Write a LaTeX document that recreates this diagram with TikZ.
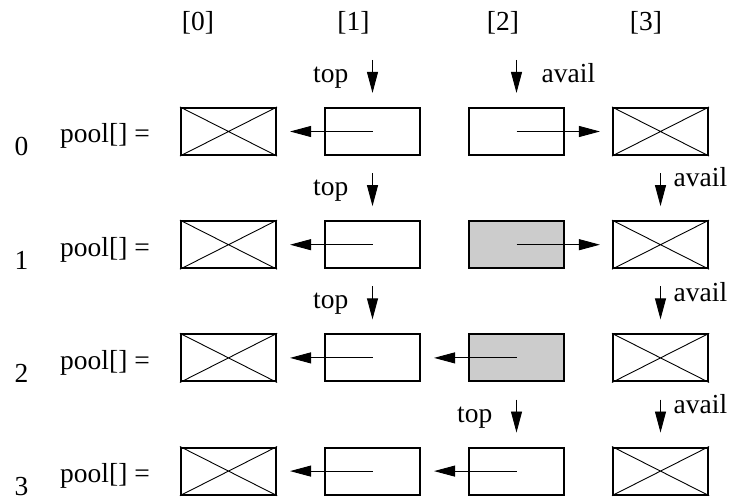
\documentclass[tikz,border=0pt]{standalone}
\usepackage{fontspec}
\setmainfont{Liberation Serif}
\usetikzlibrary{arrows.meta}
\begin{document}
\begin{tikzpicture}[x=1pt,y=-1pt,
  cell/.style={draw,line width=2.1pt,minimum width=95pt,minimum height=47pt,inner sep=0pt},
  grey/.style={fill=black!20},
  crossln/.style={line width=0.9pt},
  arr/.style={line width=0.9pt,-{Triangle[length=21pt,width=11pt]}},
  lbl/.style={inner sep=0pt,font=\fontsize{27.5}{30}\selectfont},
]
\useasboundingbox (0,0) rectangle (731,502);
% headers
\node[lbl,anchor=base] (h0) at (198,31) {[0]};
\node[lbl,anchor=base] (h1) at (353.5,31) {[1]};
\node[lbl,anchor=base] (h2) at (503,31) {[2]};
\node[lbl,anchor=base] (h3) at (646,31) {[3]};
% boxes
\foreach \r/\y in {0/131.5,1/244.7,2/357.9,3/471.1}{
  \node[cell] (b\r0) at (228.5,\y) {};
  \node[cell] (b\r1) at (372.5,\y) {};
  \node[cell] (b\r3) at (660.5,\y) {};
  \node[lbl,anchor=base west] (p\r) at (60,\y+11.5) {pool[] =};
  \node[lbl,anchor=base] (n\r) at (21.5,\y+24.5) {\r};
  \draw[crossln] (b\r0.north west) -- (b\r0.south east) (b\r0.south west) -- (b\r0.north east);
  \draw[crossln] (b\r3.north west) -- (b\r3.south east) (b\r3.south west) -- (b\r3.north east);
  \draw[arr] (b\r1.center) -- ([xshift=13pt]b\r0.east);
}
\node[cell] (b02) at (516.5,131.5) {};
\node[cell,grey] (b12) at (516.5,244.7) {};
\node[cell,grey] (b22) at (516.5,357.9) {};
\node[cell] (b32) at (516.5,471.1) {};
% horizontal links from column 2
\draw[arr] (b02.center) -- ([xshift=-12pt]b03.west);
\draw[arr] (b12.center) -- ([xshift=-12pt]b13.west);
\draw[arr] (b22.center) -- ([xshift=13pt]b21.east);
\draw[arr] (b32.center) -- ([xshift=13pt]b31.east);
% top pointers
\foreach \r/\c in {0/1,1/1,2/1,3/2}{
  \coordinate (ts\r) at ([yshift=47pt]b\r\c.north);
  \draw[arr] (ts\r) -- ([yshift=14pt]b\r\c.north);
  \node[lbl,anchor=base east] (tl\r) at ([xshift=-24pt,yshift=24.5pt]b\r\c.north) {top};
}
% avail pointers
\foreach \r/\c in {0/2,1/3,2/3,3/3}{
  \coordinate (as\r) at ([yshift=47pt]b\r\c.north);
  \draw[arr] (as\r) -- ([yshift=14pt]b\r\c.north);
}
\node[lbl,anchor=base west] (al0) at ([xshift=25pt,yshift=24pt]b02.north) {avail};
\node[lbl,anchor=base west] (al1) at ([xshift=13pt,yshift=34pt]b13.north) {avail};
\node[lbl,anchor=base west] (al2) at ([xshift=13pt,yshift=32pt]b23.north) {avail};
\node[lbl,anchor=base west] (al3) at ([xshift=13pt,yshift=33pt]b33.north) {avail};
\end{tikzpicture}
\end{document}
